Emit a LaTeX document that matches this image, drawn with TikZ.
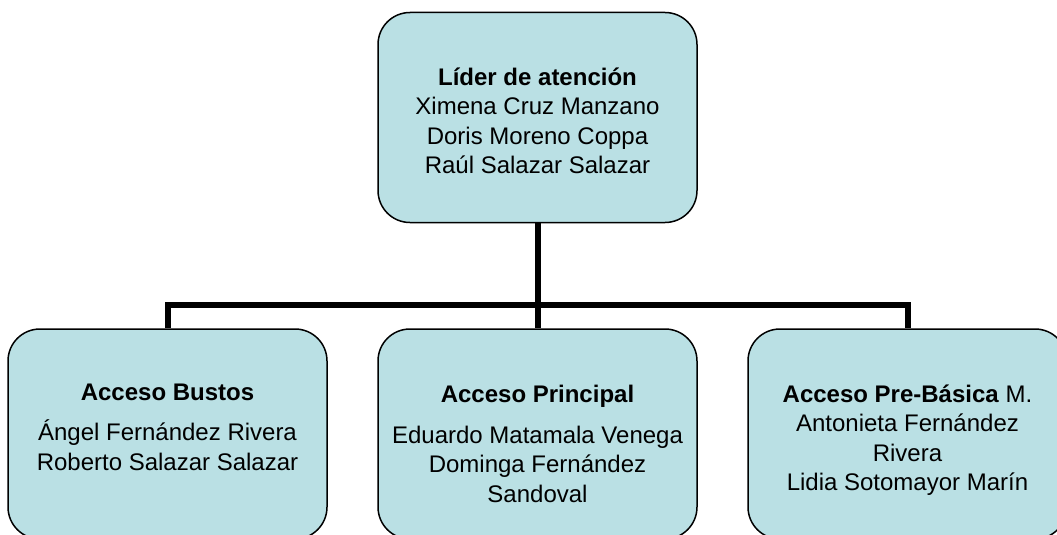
\documentclass[tikz,border=0pt]{standalone}
\usepackage{fontspec}
\setmainfont{Liberation Sans}
\definecolor{boxfill}{RGB}{186,224,228}
\begin{document}
\begin{tikzpicture}[x=1pt,y=-1pt,
  orgbox/.style={draw=black, line width=1.5pt, fill=boxfill, rounded corners=32pt,
    minimum width=319pt, minimum height=210pt, inner sep=0pt},
  txt/.style={align=center, font=\fontsize{24}{29.5}\selectfont, inner sep=0pt},
  conn/.style={line width=6pt, line join=miter}]
\useasboundingbox (0,0) rectangle (1057,535);
\node[orgbox] (top) at (537.5,117.5) {};
\node[orgbox] (left) at (167.5,434) {};
\node[orgbox] (mid) at (537.5,434) {};
\node[orgbox] (right) at (907.5,434) {};
\coordinate (j) at (537.5,305);
\draw[conn] (top.south) -- (j);
\draw[conn] (left.north) |- (j) -| (right.north);
\draw[conn] (j) -- (mid.north);
\node[txt, anchor=base] (toptext) at (537.5,173.5)
  {\textbf{Líder de atención}\\Ximena Cruz Manzano\\Doris Moreno Coppa\\Raúl Salazar Salazar};
\node[txt, anchor=base] (lefttext) at (167.5,470)
  {\textbf{Acceso Bustos}\\[11pt]Ángel Fernández Rivera\\Roberto Salazar Salazar};
\node[txt, anchor=base] (midtext) at (537.5,502)
  {\textbf{Acceso Principal}\\[11pt]Eduardo Matamala Venega\\Dominga Fernández\\Sandoval};
\node[txt, anchor=base] (righttext) at (907.5,490.5)
  {\textbf{Acceso Pre-Básica} M.\\Antonieta Fernández\\Rivera\\Lidia Sotomayor Marín};
\end{tikzpicture}
\end{document}
